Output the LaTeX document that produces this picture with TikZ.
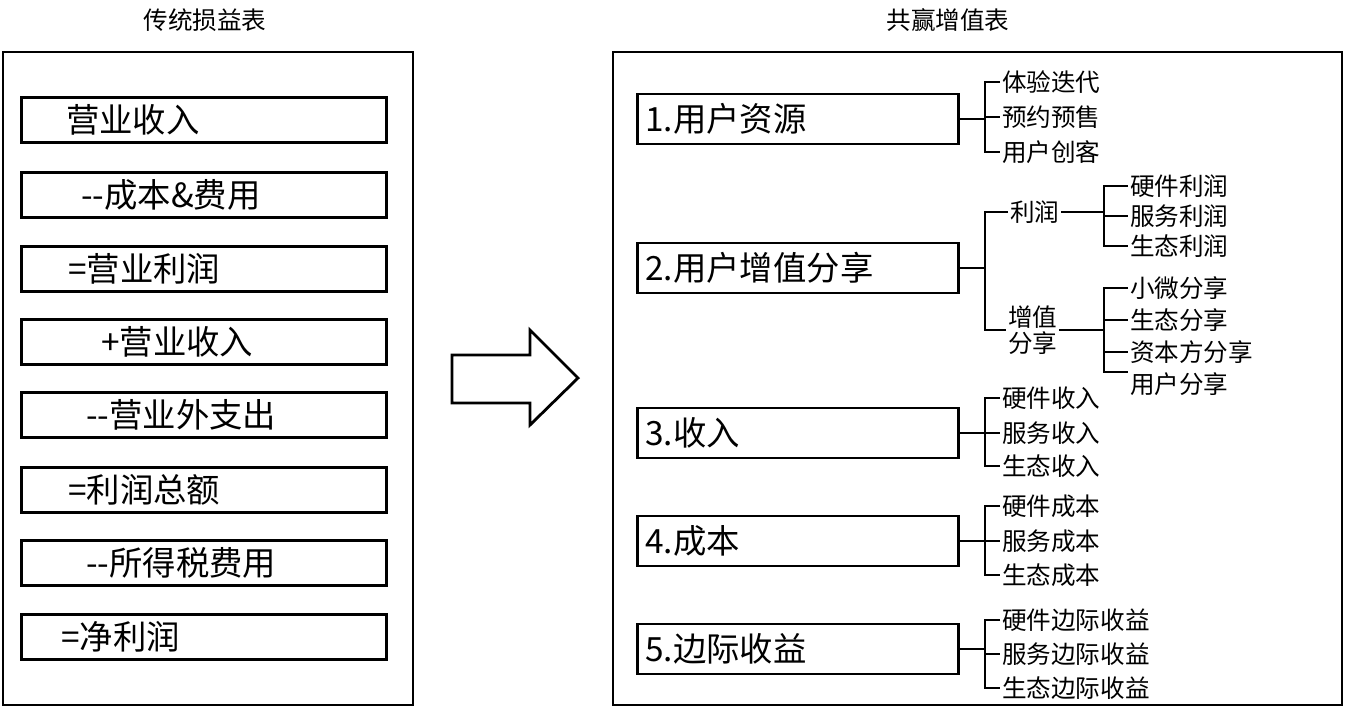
\documentclass[tikz,border=0pt]{standalone}
\usepackage{fontspec}
\setmainfont{Liberation Serif}
\newfontfamily\cjk{Noto Sans CJK SC}
\usetikzlibrary{positioning}

\begin{document}
\begin{tikzpicture}[
  x=0.02cm, y=-0.02cm,
  font=\cjk,
  frame/.style = {draw, line width=1.6pt},
  item/.style = {draw, line width=1.6pt, minimum width=7.3cm, minimum height=0.9cm,
                 anchor=west, inner sep=0pt},
  rbox/.style = {draw, line width=1.6pt, minimum width=6.42cm, minimum height=1cm,
                 anchor=west, text width=6.1cm, font=\cjk\fontsize{19}{20}\selectfont},
  leaf/.style = {anchor=west, inner sep=1pt, font=\cjk\fontsize{14}{15}\selectfont},
  ttl/.style = {font=\cjk\fontsize{14}{15}\selectfont},
  br/.style = {line width=1.6pt}
]
\useasboundingbox (0,0) rectangle (1349,716);

% titles and frames
\node[ttl] (lt) at (205,20) {传统损益表};
\node[ttl] (rt) at (948,20) {共赢增值表};
\draw[frame] (3,52) rectangle (413,705);
\draw[frame] (613,52) rectangle (1342,705);

% left column
\foreach \y/\x/\t [count=\i] in {120/40/营业收入, 195/55/--成本\&费用, 269/42/=营业利润,
    342/75/+营业收入, 415/60/--营业外支出, 490/42/=利润总额, 563/60/--所得税费用, 637/35/=净利润} {
  \node[item] (l\i) at (20,\y) {};
  \node[anchor=west, font=\cjk\fontsize{19}{20}\selectfont] at ([xshift=\x*0.02cm]l\i.west) {\t};
}

% arrow
\draw[frame] (452,355) -- (530,355) -- (530,330) -- (578,378) -- (530,425)
  -- (530,403) -- (452,403) -- cycle;

% right boxes
\node[rbox] (b1) at (636,119) {1.用户资源};
\node[rbox] (b2) at (636,268) {2.用户增值分享};
\node[rbox] (b3) at (636,433) {3.收入};
\node[rbox] (b4) at (636,541) {4.成本};
\node[rbox] (b5) at (636,649) {5.边际收益};

% leaves
\node[leaf] (a1) at (1000,82) {体验迭代};
\node[leaf] (a2) at (1000,117) {预约预售};
\node[leaf] (a3) at (1000,152) {用户创客};
\node[leaf] (p) at (1008,212) {利润};
\node[leaf, align=left] (v) at (1006,330) {增值\\分享};
\node[leaf] (p1) at (1128,186) {硬件利润};
\node[leaf] (p2) at (1128,216) {服务利润};
\node[leaf] (p3) at (1128,246) {生态利润};
\node[leaf] (v1) at (1128,288) {小微分享};
\node[leaf] (v2) at (1128,320) {生态分享};
\node[leaf] (v3) at (1128,352) {资本方分享};
\node[leaf] (v4) at (1128,384) {用户分享};
\node[leaf] (c1) at (1000,398) {硬件收入};
\node[leaf] (c2) at (1000,433) {服务收入};
\node[leaf] (c3) at (1000,466) {生态收入};
\node[leaf] (d1) at (1000,506) {硬件成本};
\node[leaf] (d2) at (1000,541) {服务成本};
\node[leaf] (d3) at (1000,575) {生态成本};
\node[leaf] (e1) at (1000,620) {硬件边际收益};
\node[leaf] (e2) at (1000,654) {服务边际收益};
\node[leaf] (e3) at (1000,688) {生态边际收益};

% brackets
\coordinate (xa) at (985,0);
\coordinate (xb) at (1104,0);
\coordinate (vend) at (1128,372);
\foreach \b/\u/\m/\w in {b1/a1/a2/a3, b3/c1/c2/c3, b4/d1/d2/d3, b5/e1/e2/e3} {
  \draw[br] (\b.east) -- (xa |- \b.east);
  \draw[br] (\u.west) -| (xa |- \w.west) -- (\w.west);
  \draw[br] (xa |- \m.west) -- (\m.west);
}
\draw[br] (b2.east) -- (xa |- b2.east);
\draw[br] (p.west) -| (xa |- v.west) -- (v.west);
\draw[br] (p.east) -- (xb |- p.east);
\draw[br] (p1.west) -| (xb |- p3.west) -- (p3.west);
\draw[br] (xb |- p2.west) -- (p2.west);
\draw[br] (v.east) -- (xb |- v.east);
\draw[br] (v1.west) -| (xb |- vend) -- (vend);
\draw[br] (xb |- v2.west) -- (v2.west);
\draw[br] (xb |- v3.west) -- (v3.west);
\end{tikzpicture}
\end{document}
